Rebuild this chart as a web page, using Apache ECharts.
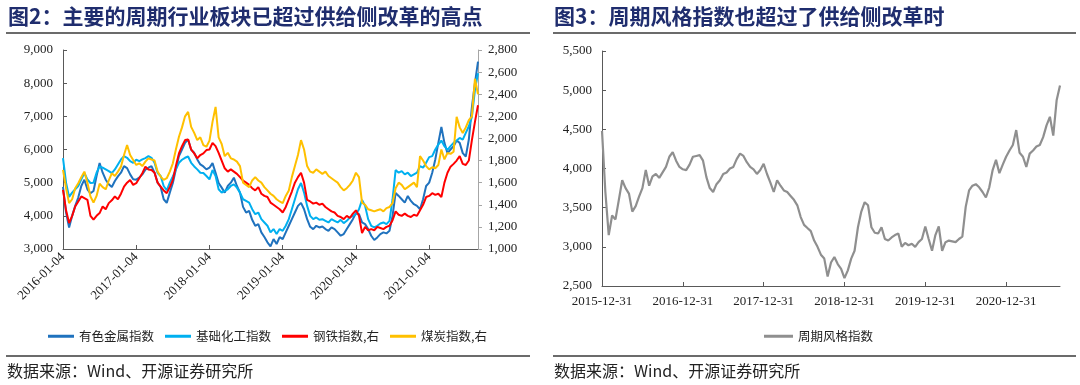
<!DOCTYPE html>
<html><head><meta charset="utf-8">
<script src="https://cdn.jsdelivr.net/npm/echarts@6/dist/echarts.min.js"></script>
<style>html,body{margin:0;padding:0;background:#fff}#c{width:1080px;height:385px}</style>
</head><body><div id="c"></div><script>
// ---- left chart categories (semi-monthly dates) ----
const leftDates = [];
for (let i = 0; i < 137; i++) {
  const m = Math.floor(i / 2), y = 2016 + Math.floor(m / 12), mo = (m % 12) + 1;
  leftDates.push(y + '-' + String(mo).padStart(2, '0') + '-' + (i % 2 === 0 ? '04' : '18'));
}
// ---- right chart categories ----
const rightDates = ['2015-12-31'];
for (let i = 1; i < 137; i++) {
  const m = Math.floor((i - 1) / 2), y = 2016 + Math.floor(m / 12), mo = (m % 12) + 1;
  const last = new Date(Date.UTC(y, mo, 0)).getUTCDate();
  rightDates.push(y + '-' + String(mo).padStart(2, '0') + '-' + (i % 2 === 1 ? '15' : String(last)));
}
const leftLabelDates = ['2016-01-04','2017-01-04','2018-01-04','2019-01-04','2020-01-04','2021-01-04'];
const rightLabelDates = ['2015-12-31','2016-12-31','2017-12-31','2018-12-31','2019-12-31','2020-12-31'];

const seriesNames = ['有色金属指数','基础化工指数','钢铁指数,右','煤炭指数,右'];
const nonferrous = [4870,4100,3650,4000,4300,4550,4900,5090,4800,4680,
4750,5200,5590,5300,5090,4950,4870,5050,5190,5300,
5500,5440,5250,5100,5090,5150,5250,5390,5450,5500,
5300,5000,4870,4500,4390,4700,4990,5400,5800,6000,
6200,6300,5990,5900,5700,5550,5490,5400,5450,5590,
5300,4990,4850,4700,4900,5000,5150,4900,4700,4270,
4100,4150,3880,3700,3750,3500,3360,3200,3080,3300,
3150,3360,3300,3500,3700,3900,4100,4300,4390,4200,
3900,3670,3600,3700,3650,3680,3600,3550,3650,3600,
3500,3400,3450,3600,3750,3900,4085,4050,3800,3750,
3600,3400,3270,3350,3450,3500,3470,3550,4000,4690,
4600,4500,4400,4600,4450,4350,4300,4200,4500,4900,
5000,5300,5700,6200,6680,6200,5890,6000,6100,6270,
6200,5890,5790,6300,7280,8000,8650];
const chemical = [5740,5000,4570,4700,4800,4900,5100,5290,5100,4990,
5000,5300,5490,5450,5400,5350,5290,5400,5550,5700,
5800,5750,5650,5600,5690,5650,5700,5740,5800,5750,
5600,5290,5200,4900,4770,5000,5190,5400,5600,5690,
5750,5790,5600,5490,5400,5300,5290,5200,5100,5380,
5200,4800,4700,4750,4800,4900,4950,4850,4700,4500,
4450,4400,4200,4050,4100,3900,3800,3700,3500,3600,
3450,3600,3550,3700,3900,4200,4500,4800,4990,4700,
4300,4000,3900,3950,3880,3900,3850,3800,3900,3850,
3800,3880,3780,3850,3950,4000,4050,4200,4480,4300,
3900,3700,3650,3700,3770,3800,3750,3850,4500,5380,
5300,5350,5250,5300,5200,5250,5300,5500,5450,5600,
5770,5800,6000,6150,6270,6100,5990,6100,6200,6270,
6350,6300,6500,6700,6980,7800,8300];
const steel = [1534,1350,1235,1300,1385,1430,1475,1460,1445,1300,
1265,1300,1325,1385,1360,1415,1440,1475,1450,1500,
1565,1600,1625,1580,1595,1640,1685,1745,1720,1715,
1690,1600,1565,1530,1505,1560,1625,1750,1865,1930,
1985,1990,1900,1865,1820,1850,1865,1895,1900,1960,
1930,1870,1800,1730,1700,1720,1700,1680,1650,1620,
1600,1580,1550,1530,1560,1500,1480,1470,1420,1400,
1380,1360,1330,1380,1450,1520,1600,1650,1690,1600,
1445,1430,1410,1420,1400,1410,1380,1360,1340,1330,
1300,1290,1270,1300,1280,1320,1350,1300,1145,1200,
1170,1180,1170,1200,1190,1180,1200,1210,1260,1340,
1310,1300,1320,1300,1290,1310,1300,1350,1400,1470,
1480,1505,1490,1500,1470,1600,1690,1745,1770,1800,
1840,1770,1760,1800,1985,2150,2300];
const coal = [1715,1550,1415,1450,1550,1595,1650,1700,1600,1475,
1420,1480,1590,1560,1540,1620,1685,1660,1700,1745,
1850,1940,1850,1805,1760,1775,1750,1790,1820,1810,
1800,1700,1655,1625,1640,1700,1775,1900,2015,2100,
2200,2240,2105,2050,1985,2010,1940,1925,1980,2150,
2285,2010,1950,1840,1870,1820,1810,1790,1750,1600,
1580,1560,1620,1650,1620,1600,1560,1530,1500,1480,
1450,1430,1415,1480,1530,1650,1750,1850,1985,1900,
1750,1700,1690,1720,1700,1680,1700,1660,1640,1620,
1600,1560,1530,1550,1580,1620,1690,1650,1420,1400,
1360,1350,1340,1350,1360,1340,1370,1380,1415,1550,
1600,1580,1540,1560,1580,1600,1560,1840,1800,1750,
1720,1740,1730,1760,1900,1810,1870,1860,1880,2195,
2100,2050,2100,2165,2200,2540,2400];
const cyclicalName = '周期风格指数';
const cyclical = [4480,3700,3150,3400,3350,3600,3850,3750,3680,3450,
3520,3640,3750,3980,3780,3900,3930,3880,3950,4020,
4150,4210,4100,4020,3990,3980,4050,4150,4160,4170,
4100,3890,3750,3700,3800,3850,3930,3950,4000,4020,
4120,4190,4160,4080,4020,3990,3930,3980,4060,3930,
3820,3700,3850,3780,3720,3700,3650,3600,3530,3380,
3280,3240,3200,3080,3000,2900,2850,2620,2800,2870,
2780,2720,2600,2700,2850,2950,3250,3450,3570,3530,
3250,3180,3170,3250,3100,3080,3120,3150,3170,3000,
3050,3020,3040,3000,3060,3100,3260,3100,2950,3150,
3260,2950,3060,3080,3070,3060,3100,3130,3510,3720,
3780,3800,3760,3700,3630,3760,3980,4110,3940,4050,
4150,4230,4300,4490,4200,4150,4020,4190,4230,4280,
4300,4400,4550,4660,4420,4870,5060];

const serif = 'Liberation Serif';
const cjk = 'Noto Sans CJK SC';
const fmt = v => String(v).replace(/\B(?=(\d{3})+(?!\d))/g, ',');
const leftPick = (i, v) => leftLabelDates.indexOf(v) >= 0;
const rightPick = (i, v) => rightLabelDates.indexOf(v) >= 0;
const axisCol = '#595959';

const chart = echarts.init(document.getElementById('c'), null, {renderer: 'canvas'});
chart.setOption({
  animation: false,
  backgroundColor: '#fff',
  grid: [
    {left: 63, top: 50, width: 415, height: 199},
    {left: 602, top: 51, width: 458, height: 235}
  ],
  xAxis: [
    {type: 'category', gridIndex: 0, data: leftDates, boundaryGap: false,
     axisLine: {lineStyle: {color: axisCol}},
     axisTick: {inside: true, length: 4, interval: leftPick, lineStyle: {color: axisCol}},
     axisLabel: {interval: leftPick, rotate: 45, fontFamily: serif, fontSize: 13, color: '#222', margin: 6}},
    {type: 'category', gridIndex: 1, data: rightDates, boundaryGap: false,
     axisLine: {lineStyle: {color: axisCol}},
     axisTick: {inside: true, length: 4, interval: rightPick, lineStyle: {color: axisCol}},
     axisLabel: {interval: rightPick, fontFamily: serif, fontSize: 13, color: '#222', margin: 9}}
  ],
  yAxis: [
    {type: 'value', gridIndex: 0, min: 3000, max: 9000, interval: 1000,
     axisLine: {show: true, lineStyle: {color: axisCol}},
     axisTick: {show: true, inside: true, length: 4, lineStyle: {color: axisCol}},
     splitLine: {show: false},
     axisLabel: {formatter: fmt, fontFamily: serif, fontSize: 13, color: '#222', margin: 10}},
    {type: 'value', gridIndex: 0, position: 'right', min: 1000, max: 2800, interval: 200,
     axisLine: {show: true, lineStyle: {color: '#a6a6a6'}},
     axisTick: {show: true, length: 4, lineStyle: {color: '#a6a6a6'}},
     splitLine: {show: false},
     axisLabel: {formatter: fmt, fontFamily: serif, fontSize: 13, color: '#222', margin: 10}},
    {type: 'value', gridIndex: 1, min: 2500, max: 5500, interval: 500,
     axisLine: {show: true, lineStyle: {color: axisCol}},
     axisTick: {show: true, inside: true, length: 4, lineStyle: {color: axisCol}},
     splitLine: {show: false},
     axisLabel: {formatter: fmt, fontFamily: serif, fontSize: 13, color: '#222', margin: 10}}
  ],
  legend: [
    {data: seriesNames, left: 43, top: 325, icon: 'rect', itemWidth: 26, itemHeight: 3, itemGap: 11,
     textStyle: {fontFamily: cjk, fontSize: 12.5, color: '#222'}},
    {data: [cyclicalName], left: 759, top: 325, icon: 'rect', itemWidth: 29, itemHeight: 3,
     textStyle: {fontFamily: cjk, fontSize: 12.5, color: '#222'}}
  ],
  series: [
    {name: seriesNames[0], type: 'line', xAxisIndex: 0, yAxisIndex: 0, data: nonferrous, showSymbol: false,
     color: '#1F72BE', lineStyle: {width: 2}},
    {name: seriesNames[1], type: 'line', xAxisIndex: 0, yAxisIndex: 0, data: chemical, showSymbol: false,
     color: '#00B0F0', lineStyle: {width: 2}},
    {name: seriesNames[2], type: 'line', xAxisIndex: 0, yAxisIndex: 1, data: steel, showSymbol: false,
     color: '#FF0000', lineStyle: {width: 2}},
    {name: seriesNames[3], type: 'line', xAxisIndex: 0, yAxisIndex: 1, data: coal, showSymbol: false,
     color: '#FFC000', lineStyle: {width: 2}},
    {name: cyclicalName, type: 'line', xAxisIndex: 1, yAxisIndex: 2, data: cyclical, showSymbol: false,
     color: '#8F8F8F', lineStyle: {width: 2.2}}
  ],
  graphic: [
    {type: 'text', left: 8, top: 6, style: {text: '图2：主要的周期行业板块已超过供给侧改革的高点',
      font: 'bold 21px "Noto Sans CJK SC"', fill: '#1F2D6E'}},
    {type: 'text', left: 554, top: 6, style: {text: '图3：周期风格指数也超过了供给侧改革时',
      font: 'bold 21px "Noto Sans CJK SC"', fill: '#1F2D6E'}},
    {type: 'line', shape: {x1: 6, y1: 33, x2: 530, y2: 33}, style: {stroke: '#6b6b6b', lineWidth: 2}},
    {type: 'line', shape: {x1: 553, y1: 33, x2: 1076, y2: 33}, style: {stroke: '#6b6b6b', lineWidth: 2}},
    {type: 'line', shape: {x1: 6, y1: 356, x2: 530, y2: 356}, style: {stroke: '#6b6b6b', lineWidth: 2}},
    {type: 'line', shape: {x1: 553, y1: 356, x2: 1076, y2: 356}, style: {stroke: '#6b6b6b', lineWidth: 2}},
    {type: 'text', left: 7, top: 363, style: {text: '数据来源：Wind、开源证券研究所',
      font: '16px "Noto Sans CJK SC"', fill: '#222'}},
    {type: 'text', left: 554, top: 363, style: {text: '数据来源：Wind、开源证券研究所',
      font: '16px "Noto Sans CJK SC"', fill: '#222'}}
  ]
});
</script></body></html>
